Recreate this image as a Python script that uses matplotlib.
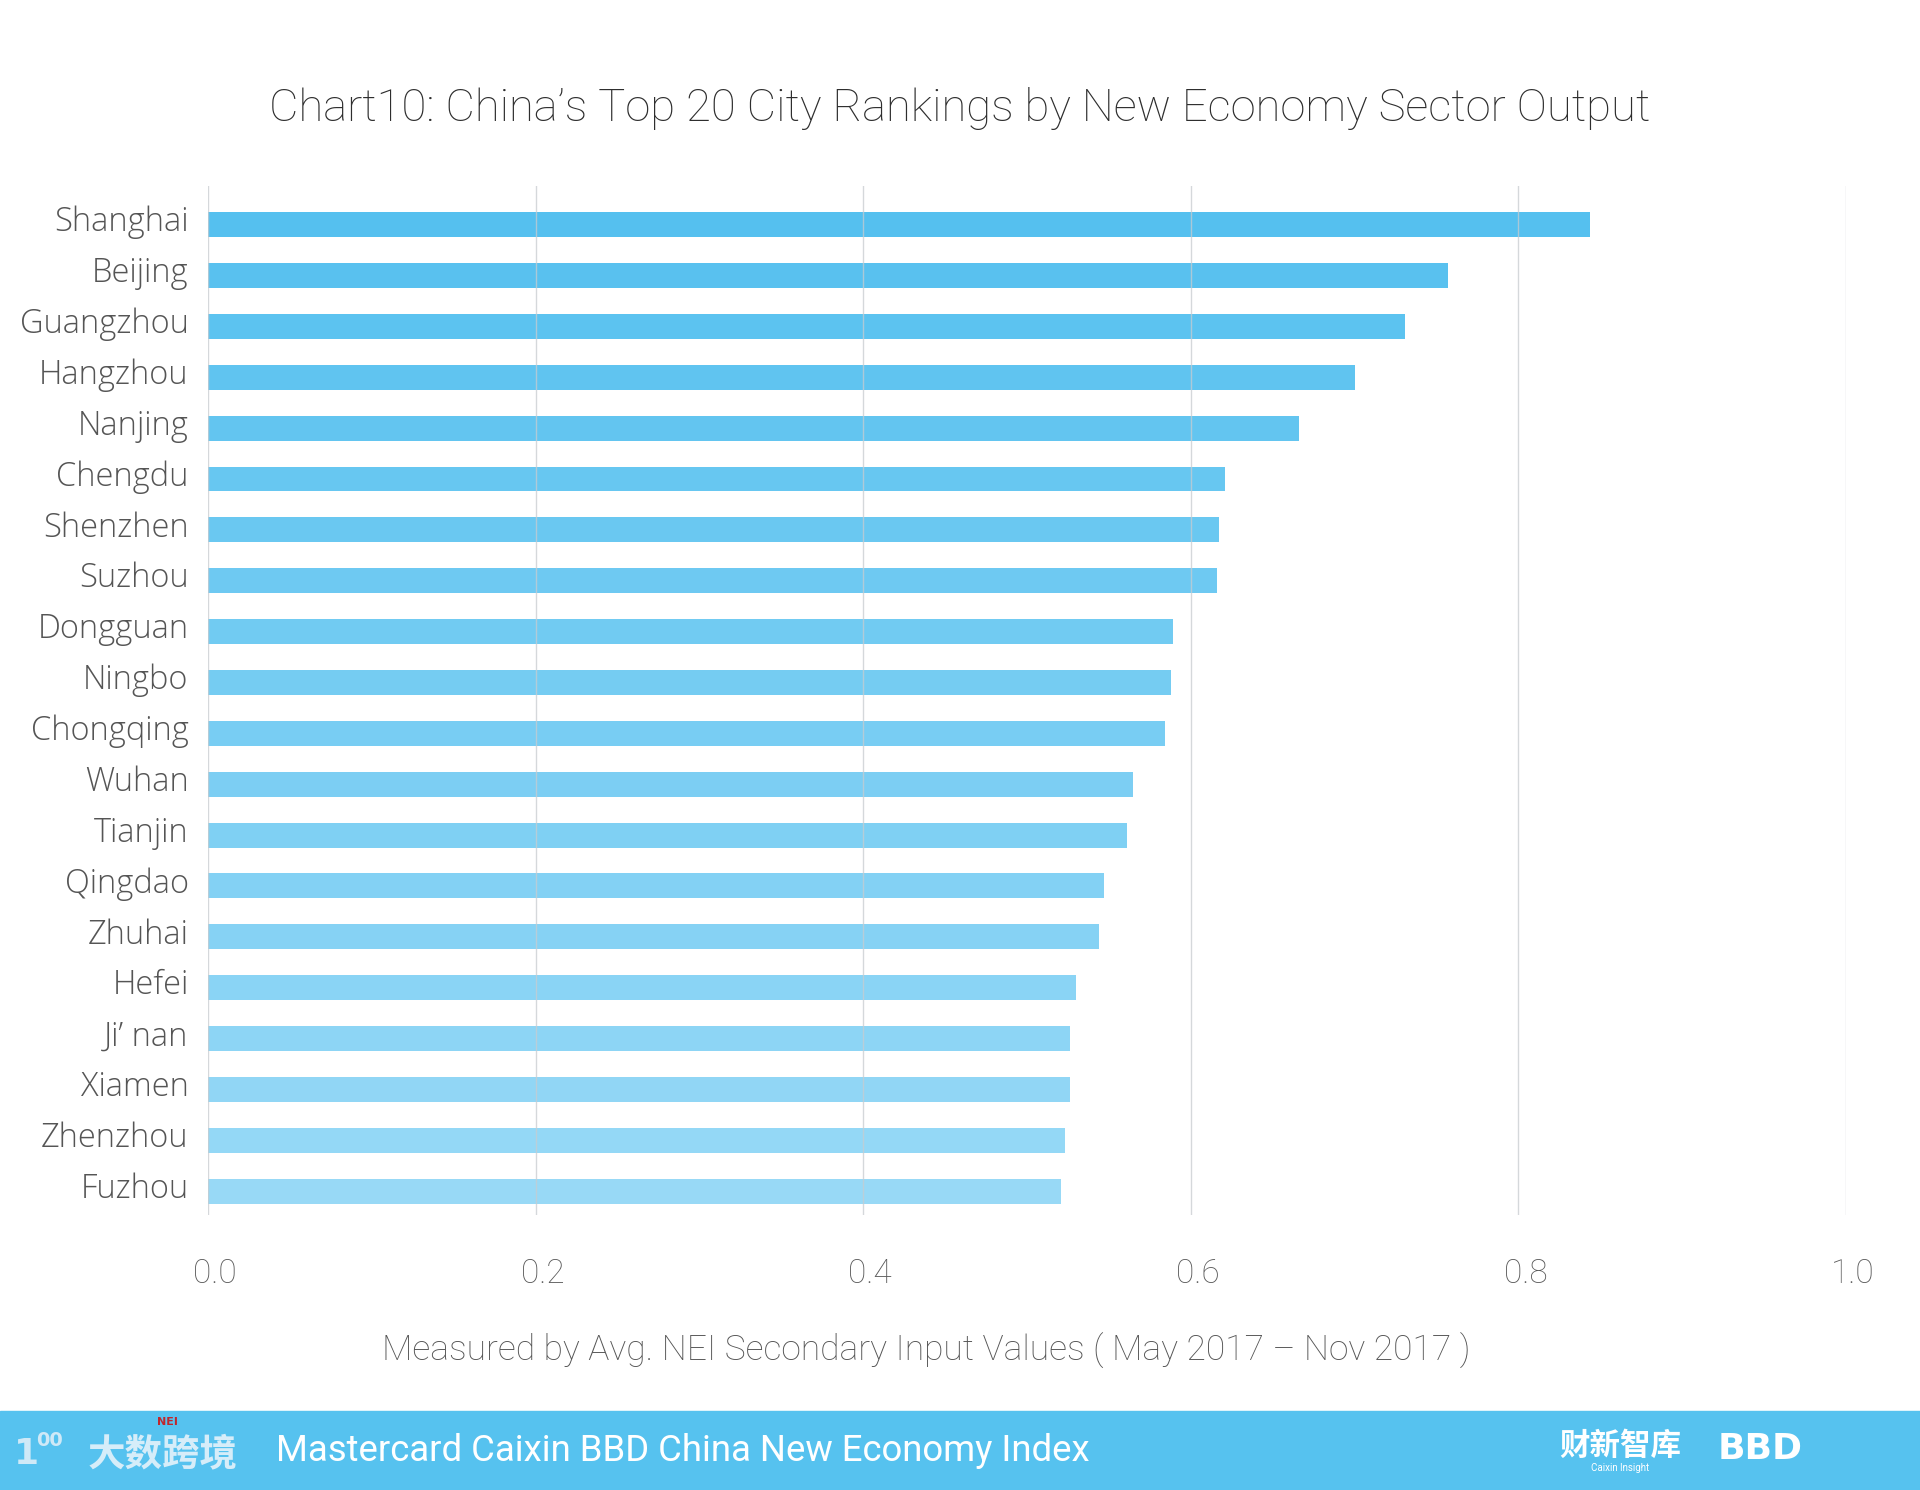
import matplotlib
matplotlib.use("Agg")
import matplotlib.pyplot as plt
import matplotlib.patches as mpatches
import matplotlib.transforms as mtransforms
import numpy as np

# data
cities = ["Shanghai", "Beijing", "Guangzhou", "Hangzhou", "Nanjing", "Chengdu",
          "Shenzhen", "Suzhou", "Dongguan", "Ningbo", "Chongqing", "Wuhan",
          "Tianjin", "Qingdao", "Zhuhai", "Hefei", "Ji\u2019 nan", "Xiamen",
          "Zhenzhou", "Fuzhou"]
values = [0.844, 0.757, 0.731, 0.700, 0.666, 0.621, 0.617, 0.616, 0.589, 0.588,
          0.584, 0.565, 0.561, 0.547, 0.544, 0.530, 0.526, 0.526, 0.523, 0.521]
xticks = [0.0, 0.2, 0.4, 0.6, 0.8, 1.0]

title = "Chart10: China\u2019s Top 20 City Rankings by New Economy Sector Output"
xlabel = "Measured by Avg. NEI Secondary Input Values ( May 2017 \u2013 Nov 2017 )"
footer = "Mastercard Caixin BBD China New Economy Index"

W, H = 1920, 1490
fig = plt.figure(figsize=(W / 100, H / 100), dpi=100)
fig.patch.set_facecolor("white")

# axes box in pixels: x 208..1846, y 186..1215 (from top)
ax = fig.add_axes([208 / W, 1 - 1215 / H, (1846 - 208) / W, (1215 - 186) / H])

# bar colours fade from deeper to lighter blue down the list
c_top = np.array([85, 192, 239]) / 255
c_bot = np.array([152, 217, 246]) / 255
n = len(cities)
colors = [tuple(c_top + (c_bot - c_top) * i / (n - 1)) for i in range(n)]

y = np.arange(n)
ax.barh(y, values, height=0.49, color=colors, zorder=2)

ax.set_xlim(0, 1.0)
ax.set_ylim(19.47, -0.76)
ax.set_xticks(xticks)
ax.set_xticklabels([f"{t:.1f}" for t in xticks], family="Roboto", weight="light",
                   fontsize=24, color="#5a5a5a")
ax.set_yticks(y)
ax.set_yticklabels(cities, family="Open Sans", weight="light", fontsize=23.5,
                   color="#555555")
ax.tick_params(axis="x", length=0, pad=31)
ax.tick_params(axis="y", length=0, pad=14)

# city names sit a little above the bar centres, x ticks a touch right
up = mtransforms.ScaledTranslation(0, 6 / 100, fig.dpi_scale_trans)
for lab in ax.get_yticklabels():
    lab.set_transform(lab.get_transform() + up)
right = mtransforms.ScaledTranslation(7 / 100, 0, fig.dpi_scale_trans)
for lab in ax.get_xticklabels():
    lab.set_transform(lab.get_transform() + right)

for s in ax.spines.values():
    s.set_visible(False)
ax.grid(axis="x", color="#c8ccd0", linewidth=1.0, alpha=0.75, zorder=3)
ax.set_axisbelow(False)

fig.text(0.5, 1 - 108 / H, title, ha="center", va="center", family="Roboto",
         weight="light", fontsize=32.7, color="#2e2e2e")
fig.text(926 / W, 1 - 1351 / H, xlabel, ha="center", va="center", family="Roboto",
         weight="light", fontsize=25.5, color="#555555")

# footer band
band = mpatches.Rectangle((0, 0), 1, 79 / H, transform=fig.transFigure,
                          color="#56c2ef", zorder=0)
fig.patches.append(band)
fig.text(276 / W, 1 - 1451 / H, footer, ha="left", va="center", family="Roboto",
         fontsize=26.3, color="white")
fig.text(14 / W, 1 - 1454 / H, "1", ha="left", va="center",
         family="DejaVu Sans", fontsize=26, color="#cfe9f7", weight="bold")
fig.text(36 / W, 1 - 1440 / H, "00", ha="left", va="center",
         family="DejaVu Sans", fontsize=14, color="#cfe9f7", weight="bold")
fig.text(88 / W, 1 - 1454 / H, "大数跨境", ha="left", va="center",
         family=["Noto Sans CJK SC", "DejaVu Sans"], fontsize=27, color="#d6edf9",
         weight="bold")
fig.text(167 / W, 1 - 1422 / H, "NEI", ha="center", va="center",
         family="DejaVu Sans", fontsize=8, color="#c0272d", weight="bold")
fig.text(1620 / W, 1 - 1446 / H, "财新智库", ha="center", va="center",
         family=["Noto Sans CJK SC", "DejaVu Sans"], fontsize=22, color="white",
         weight="bold")
fig.text(1620 / W, 1 - 1468 / H, "Caixin Insight", ha="center", va="center",
         family="Roboto", fontsize=7, color="white")
fig.text(1760 / W, 1 - 1449 / H, "BBD", ha="center", va="center",
         family="DejaVu Sans", fontsize=26, color="white", weight="heavy")

fig.savefig("out.png", dpi=100)
